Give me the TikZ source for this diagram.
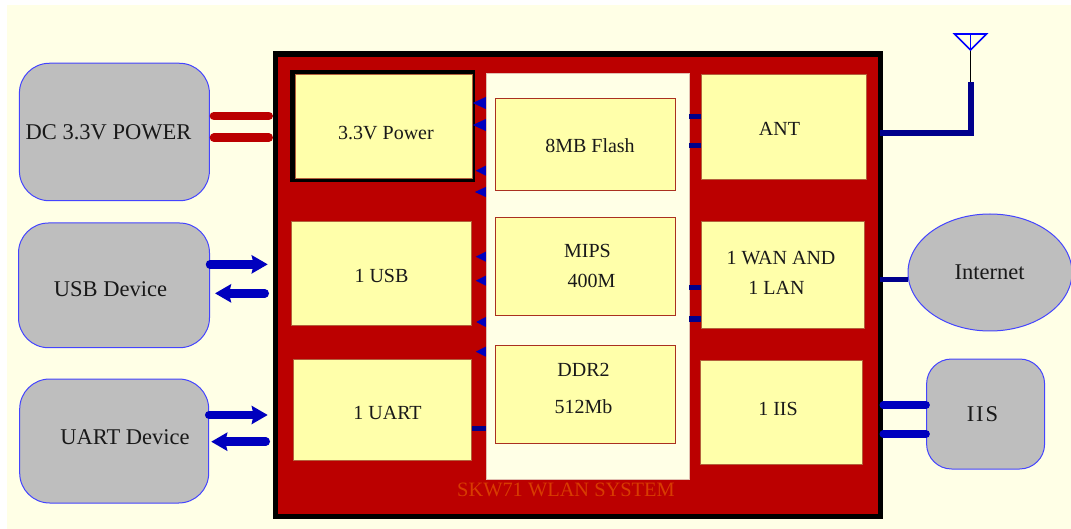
\documentclass[tikz,border=0pt]{standalone}
\usepackage{fontspec}
\setmainfont{Liberation Serif}
\usetikzlibrary{arrows.meta, calc, shapes.geometric}
\definecolor{PageCream}{HTML}{FFFFE6}
\definecolor{SysRed}{HTML}{BB0000}
\definecolor{BoxYellow}{HTML}{FFFFAA}
\definecolor{BoxEdge}{HTML}{B4603C}
\definecolor{ChipEdge}{HTML}{AA3020}
\definecolor{DevGray}{HTML}{BEBEBE}
\definecolor{DevEdge}{HTML}{4444FF}
\definecolor{LinkBlue}{HTML}{0000BE}
\definecolor{LinkNavy}{HTML}{00008C}
\definecolor{TitleOrange}{HTML}{D83C00}
\tikzset{
  devbox/.style={draw=DevEdge, fill=DevGray, line width=1pt, rounded corners=30pt},
  yellowbox/.style={draw=BoxEdge, fill=BoxYellow, line width=0.8pt},
  chipbox/.style={draw=ChipEdge, fill=BoxYellow, line width=1pt},
  boxtext/.style={font=\fontsize{20}{24}\selectfont, text=black!90, inner sep=0pt},
  devtext/.style={font=\fontsize{22.5}{27}\selectfont, text=black!90, inner sep=0pt},
  redlink/.style={draw=SysRed, line width=8.5pt, line cap=round, shorten >=4pt, shorten <=4pt},
  bluearrow/.style={draw=LinkBlue, line width=8.5pt, line cap=round},
  bluelink/.style={draw=LinkBlue, line width=7.5pt, line cap=round},
  navylink/.style={draw=LinkNavy, line width=5.5pt}
}

\begin{document}
\begin{tikzpicture}[x=1pt, y=-1pt, >=Stealth]
  \path[use as bounding box, clip] (0,0) rectangle (1071,529);
  \fill[PageCream] (7,5) rectangle (1071,529);

  % System board
  \node[draw=black, fill=SysRed, line width=5.5pt, minimum width=605pt, minimum height=462.5pt]
    (sys) at (578,285.25) {};
  \node[draw=BoxEdge!40, fill=PageCream, line width=0.5pt, minimum width=203pt, minimum height=406pt]
    (core) at (587.5,276) {};
  \node[text=TitleOrange, font=\fontsize{20.4}{25}\selectfont, inner sep=0pt] (systitle) at (566,490) {SKW71 WLAN SYSTEM};

  % Left column
  \node[fill=black, minimum width=185pt, minimum height=112pt] (powerframe) at (382,126.5) {};
  \node[yellowbox, minimum width=177.5pt, minimum height=104pt] (power) at (384,126.5) {};
  \node[yellowbox, minimum width=179.5pt, minimum height=103.5pt] (usb) at (381.5,273.5) {};
  \node[yellowbox, minimum width=178.5pt, minimum height=101pt] (uart) at (382.5,409.5) {};
  \node[boxtext] (powertext) at (386,133) {3.3V Power};
  \node[boxtext] (usbtext) at (381.5,276) {1 USB};
  \node[boxtext] (uarttext) at (387.5,413) {1 UART};

  % Chips
  \node[chipbox, minimum width=180pt, minimum height=91.5pt] (flash) at (585.5,144.5) {};
  \node[chipbox, minimum width=180pt, minimum height=98.5pt] (mips) at (585.5,266.5) {};
  \node[chipbox, minimum width=180pt, minimum height=98pt] (ddr) at (585.5,394) {};
  \node[boxtext] (flashtext) at (590,146) {8MB Flash};
  \node[boxtext] (mipstext) at (587.5,251) {MIPS};
  \node[boxtext] (mipsspeed) at (591.5,281) {400M};
  \node[boxtext] (ddrtext) at (583.5,370) {DDR2};
  \node[boxtext] (ddrsize) at (583.5,407) {512Mb};

  % Right column
  \node[yellowbox, minimum width=165pt, minimum height=105pt] (ant) at (783.5,126.5) {};
  \node[yellowbox, minimum width=163pt, minimum height=107pt] (wan) at (782.5,275) {};
  \node[yellowbox, minimum width=162pt, minimum height=104pt] (iis) at (781.5,412) {};
  \node[boxtext] (anttext) at (779.5,129) {ANT};
  \node[boxtext] (wantext) at (781,258) {1 WAN AND};
  \node[boxtext] (lantext) at (776.5,288) {1 LAN};
  \node[boxtext] (iistext) at (778,409) {1 IIS};

  % Devices
  \node[devbox, minimum width=190pt, minimum height=137.5pt] (dcdev) at (114.4,132) {};
  \node[devbox, minimum width=191pt, minimum height=124.7pt] (usbdev) at (114,285.35) {};
  \node[devbox, minimum width=189pt, minimum height=124pt] (uartdev) at (114.2,441) {};
  \node[devbox, rounded corners=25pt, minimum width=118pt, minimum height=110pt] (iisdev) at (985.6,414) {};
  \node[draw=DevEdge, fill=DevGray, line width=1pt, ellipse, minimum width=164pt, minimum height=117pt, inner sep=0pt]
    (inet) at (990,272.5) {};
  \node[devtext] (dctext) at (108.5,132.5) {DC 3.3V POWER};
  \node[devtext] (usbdevtext) at (110.5,289.5) {USB Device};
  \node[devtext] (uartdevtext) at (125,437.5) {UART Device};
  \node[devtext] (iisdevtext) at (982.5,414.5) {I\kern2pt I\kern2pt S};
  \node[devtext] (inettext) at (989.5,272.5) {Internet};

  % Power and device links
  \draw[redlink] ([yshift=16pt]dcdev.east) -- ([yshift=16pt]dcdev.east -| sys.west);
  \draw[redlink] ([yshift=-5.7pt]dcdev.east) -- ([yshift=-5.7pt]dcdev.east -| sys.west);
  \draw[bluearrow, -{Stealth[length=16pt, width=18pt, inset=2pt]}, shorten >=5pt]
    ([yshift=21pt]usbdev.east) -- ([yshift=21pt]usbdev.east -| sys.west);
  \draw[bluearrow, {Stealth[length=16pt, width=18pt, inset=2pt]}-, shorten >=8pt, shorten <=5pt]
    ([yshift=-8pt]usbdev.east) -- ([yshift=-8pt]usbdev.east -| sys.west);
  \draw[bluearrow, -{Stealth[length=16pt, width=18pt, inset=2pt]}, shorten >=5pt]
    ([yshift=26pt]uartdev.east) -- ([yshift=26pt]uartdev.east -| sys.west);
  \draw[bluearrow, {Stealth[length=16pt, width=18pt, inset=2pt]}-, shorten >=7pt, shorten <=2pt]
    ([yshift=-0.7pt]uartdev.east) -- ([yshift=-0.7pt]uartdev.east -| sys.west);
  \draw[bluelink] ([yshift=9pt]iisdev.west) -- ([yshift=9pt]iisdev.west -| sys.east);
  \draw[bluelink] ([yshift=-20pt]iisdev.west) -- ([yshift=-20pt]iisdev.west -| sys.east);
  \draw[navylink, shorten >=-3pt] (inet.west |- 0,279.3) -- (sys.east |- 0,279.3);

  % Antenna
  \coordinate (antfoot) at (970.5,82);
  \coordinate (anttip) at (970.5,50);
  \coordinate (anttop) at (970.5,34);
  \draw[navylink, line width=6pt, shorten <=-3pt] ([yshift=152.5pt]sys.east) -| (antfoot);
  \draw[line width=1.5pt] (antfoot) -- (anttop);
  \draw[draw=blue, line width=1.6pt, line join=miter] ($(anttop)+(-16,0)$) -- ($(anttop)+(16,0)$) -- (anttip) -- cycle;
  \draw[draw=blue, line width=1.2pt] (anttop) -- (anttip);

  % Short stubs on the core
  \foreach \y in {159.7, 130.3, -11.3, -43}
    \draw[navylink] ([yshift=\y pt]core.east) -- ([yshift=\y pt]core.east -| ant.west);
  \draw[navylink] ([yshift=-152.7pt]core.west) -- ([yshift=-152.7pt]core.west -| uart.east);

  % Small tips on the left of the core
  \foreach \s/\tip/\half in {173/13/6, 151/13/6, 105.3/10/5, 84/11/5, 19.3/10/5, -4.7/10/5, -46/9.5/5, -75.7/10/5}
    \fill[LinkBlue] ([xshift=-\tip pt, yshift=\s pt]core.west) -- ++(\tip,-\half) -- ++(0,2*\half) -- cycle;
\end{tikzpicture}
\end{document}
